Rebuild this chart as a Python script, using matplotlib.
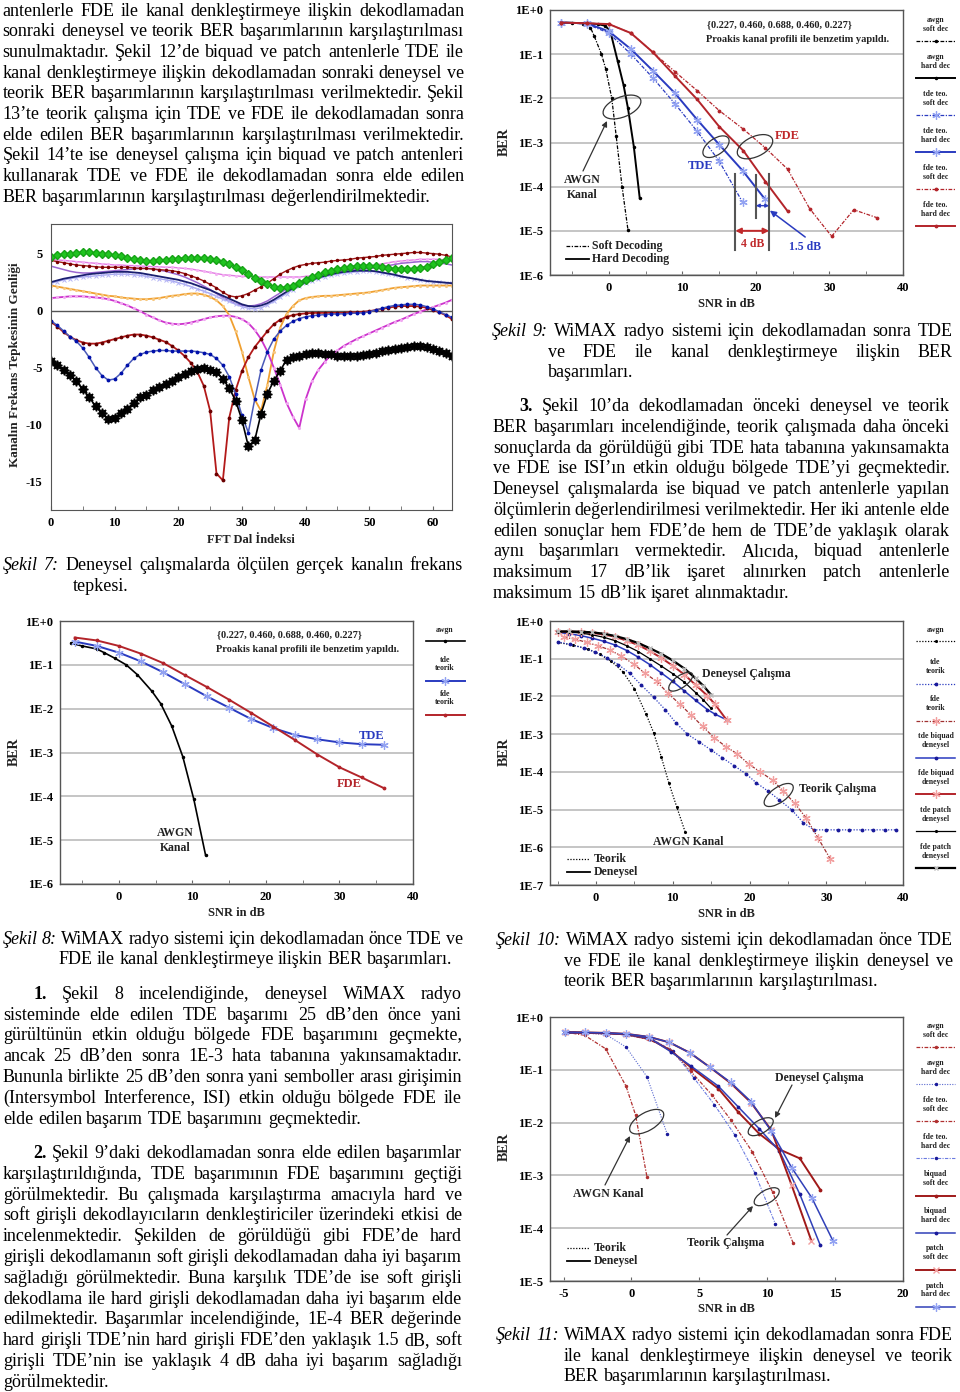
import matplotlib
matplotlib.use("Agg")
import matplotlib.pyplot as plt
from matplotlib.patches import Ellipse
from matplotlib.ticker import MultipleLocator, NullLocator
import numpy as np

plt.rcParams["font.family"] = ["Liberation Serif", "DejaVu Serif"]
plt.rcParams["font.weight"] = "bold"
plt.rcParams["axes.unicode_minus"] = False

W, H = 960, 1392

# -----------------------------
# Page text
# -----------------------------
TOP_PARA = [
    "antenlerle FDE ile kanal denkleştirmeye ilişkin dekodlamadan",
    "sonraki deneysel ve teorik BER başarımlarının karşılaştırılması",
    "sunulmaktadır. Şekil 12’de biquad ve patch antenlerle TDE ile",
    "kanal denkleştirmeye ilişkin dekodlamadan sonraki deneysel ve",
    "teorik BER başarımlarının karşılaştırılması verilmektedir. Şekil",
    "13’te teorik çalışma için TDE ve FDE ile dekodlamadan sonra",
    "elde edilen BER başarımlarının karşılaştırılması verilmektedir.",
    "Şekil 14’te ise deneysel çalışma için biquad ve patch antenleri",
    "kullanarak TDE ve FDE ile dekodlamadan sonra elde edilen",
    "BER başarımlarının karşılaştırılması değerlendirilmektedir.",
]
PARA1 = [
    "1. Şekil 8 incelendiğinde, deneysel WiMAX radyo",
    "sisteminde elde edilen TDE başarımı 25 dB’den önce yani",
    "gürültünün etkin olduğu bölgede FDE başarımını geçmekte,",
    "ancak 25 dB’den sonra 1E-3 hata tabanına yakınsamaktadır.",
    "Bununla birlikte 25 dB’den sonra yani semboller arası girişimin",
    "(Intersymbol Interference, ISI) etkin olduğu bölgede FDE ile",
    "elde edilen başarım TDE başarımını geçmektedir.",
]
PARA2 = [
    "2. Şekil 9’daki dekodlamadan sonra elde edilen başarımlar",
    "karşılaştırıldığında, TDE başarımının FDE başarımını geçtiği",
    "görülmektedir. Bu çalışmada karşılaştırma amacıyla hard ve",
    "soft girişli dekodlayıcıların denkleştiriciler üzerindeki etkisi de",
    "incelenmektedir. Şekilden de görüldüğü gibi FDE’de hard",
    "girişli dekodlamanın soft girişli dekodlamadan daha iyi başarım",
    "sağladığı görülmektedir. Buna karşılık TDE’de ise soft girişli",
    "dekodlama ile hard girişli dekodlamadan daha iyi başarım elde",
    "edilmektedir. Başarımlar incelendiğinde, 1E-4 BER değerinde",
    "hard girişli TDE’nin hard girişli FDE’den yaklaşık 1.5 dB, soft",
    "girişli TDE’nin ise yaklaşık 4 dB daha iyi başarım sağladığı",
    "görülmektedir.",
]
PARA3 = [
    "3. Şekil 10’da dekodlamadan önceki deneysel ve teorik",
    "BER başarımları incelendiğinde, teorik çalışmada daha önceki",
    "sonuçlarda da görüldüğü gibi TDE hata tabanına yakınsamakta",
    "ve FDE ise ISI’ın etkin olduğu bölgede TDE’yi geçmektedir.",
    "Deneysel çalışmalarda ise biquad ve patch antenlerle yapılan",
    "ölçümlerin değerlendirilmesi verilmektedir. Her iki antenle elde",
    "edilen sonuçlar hem FDE’de hem de TDE’de yaklaşık olarak",
    "aynı başarımları vermektedir. Alıcıda, biquad antenlerle",
    "maksimum 17 dB’lik işaret alınırken patch antenlerle",
    "maksimum 15 dB’lik işaret alınmaktadır.",
]
CAP7 = ["Şekil 7: Deneysel çalışmalarda ölçülen gerçek kanalın frekans", "tepkesi."]
CAP8 = ["Şekil 8: WiMAX radyo sistemi için dekodlamadan önce TDE ve",
        "FDE ile kanal denkleştirmeye ilişkin BER başarımları."]
CAP9 = ["Şekil 9: WiMAX radyo sistemi için dekodlamadan sonra TDE",
        "ve FDE ile kanal denkleştirmeye ilişkin BER", "başarımları."]
CAP10 = ["Şekil 10: WiMAX radyo sistemi için dekodlamadan önce TDE",
         "ve FDE ile kanal denkleştirmeye ilişkin deneysel ve",
         "teorik BER başarımlarının karşılaştırılması."]
CAP11 = ["Şekil 11: WiMAX radyo sistemi için dekodlamadan sonra FDE",
         "ile kanal denkleştirmeye ilişkin deneysel ve teorik",
         "BER başarımlarının karşılaştırılması."]

# -----------------------------
# Fig 7 data: channel frequency responses (FFT bins 0..63)
# -----------------------------
f7_green = [4.7, 4.85, 4.95, 5.0, 5.05, 5.1, 5.1, 5.05, 5.0, 4.95,
            4.85, 4.75, 4.6, 4.5, 4.4, 4.35, 4.35, 4.4, 4.45, 4.5,
            4.55, 4.6, 4.62, 4.65, 4.62, 4.55, 4.45, 4.3, 4.1, 3.85,
            3.55, 3.2, 2.9, 2.6, 2.35, 2.1, 2.0, 2.05, 2.2, 2.45,
            2.7, 2.95, 3.15, 3.35, 3.5, 3.65, 3.75, 3.85, 3.9, 3.95,
            3.95, 3.9, 3.8, 3.72, 3.68, 3.65, 3.65, 3.68, 3.72, 3.85,
            4.05, 4.25, 4.45, 4.6]
f7_red_up = [4.4, 4.3, 4.2, 4.1, 4.0, 3.95, 3.9, 3.85, 3.8, 3.8,
             3.8, 3.8, 3.8, 3.75, 3.7, 3.7, 3.65, 3.6, 3.55, 3.5,
             3.4, 3.25, 3.05, 2.85, 2.6, 2.3, 2.0, 1.6, 1.3, 1.2,
             1.3, 1.5, 1.8, 2.1, 2.4, 2.8, 3.2, 3.5, 3.75, 3.95,
             4.05, 4.15, 4.2, 4.25, 4.35, 4.4, 4.45, 4.5, 4.6, 4.65,
             4.7, 4.75, 4.85, 4.9, 4.95, 5.0, 5.05, 5.1, 5.1, 5.05,
             5.0, 4.95, 4.85, 4.7]
f7_pink_up = [4.5, 4.45, 4.4, 4.35, 4.3, 4.25, 4.2, 4.15, 4.1, 4.05,
              4.0, 4.0, 3.95, 3.95, 3.9, 3.9, 3.85, 3.85, 3.8, 3.8,
              3.75, 3.7, 3.65, 3.55, 3.45, 3.35, 3.25, 3.15, 3.1, 3.05,
              3.0, 3.0, 2.95, 2.95, 2.95, 2.95, 2.95, 2.95, 2.95, 2.95,
              3.0, 3.05, 3.1, 3.2, 3.3, 3.4, 3.5, 3.6, 3.7, 3.8,
              3.9, 4.0, 4.1, 4.2, 4.3, 4.35, 4.4, 4.45, 4.5, 4.5,
              4.5, 4.5, 4.45, 4.4]
f7_purple = [3.9, 3.75, 3.6, 3.45, 3.35, 3.3, 3.3, 3.35, 3.4, 3.45,
             3.5, 3.55, 3.6, 3.65, 3.7, 3.7, 3.65, 3.55, 3.45, 3.3,
             3.15, 2.95, 2.7, 2.45, 2.15, 1.85, 1.5, 1.15, 0.85, 0.6,
             0.45, 0.4, 0.45, 0.6, 0.85, 1.2, 1.55, 1.9, 2.2, 2.5,
             2.75, 2.95, 3.1, 3.25, 3.35, 3.45, 3.5, 3.55, 3.6, 3.65,
             3.7, 3.75, 3.85, 3.95, 4.05, 4.15, 4.2, 4.25, 4.3, 4.3,
             4.25, 4.2, 4.1, 4.0]
f7_navy = [2.5, 2.65, 2.8, 2.9, 3.0, 3.1, 3.2, 3.25, 3.3, 3.35,
           3.4, 3.4, 3.4, 3.35, 3.3, 3.2, 3.1, 3.0, 2.9, 2.8,
           2.7, 2.55, 2.4, 2.2, 2.0, 1.8, 1.55, 1.3, 1.05, 0.8,
           0.55, 0.4, 0.35, 0.45, 0.65, 0.95, 1.3, 1.65, 1.95, 2.25,
           2.5, 2.7, 2.9, 3.05, 3.2, 3.3, 3.4, 3.45, 3.5, 3.5,
           3.5, 3.45, 3.35, 3.25, 3.15, 3.0, 2.9, 2.8, 2.7, 2.6,
           2.55, 2.5, 2.45, 2.4]
f7_lavender = [2.4, 2.55, 2.7, 2.8, 2.9, 2.95, 3.0, 3.05, 3.1, 3.15,
               3.2, 3.2, 3.2, 3.15, 3.1, 3.0, 2.9, 2.8, 2.7, 2.6,
               2.45, 2.3, 2.1, 1.9, 1.7, 1.5, 1.25, 1.0, 0.8, 0.55,
               0.35, 0.2, 0.15, 0.25, 0.5, 0.8, 1.15, 1.5, 1.85, 2.15,
               2.4, 2.6, 2.8, 2.95, 3.1, 3.2, 3.3, 3.35, 3.4, 3.45,
               3.45, 3.4, 3.3, 3.2, 3.1, 3.0, 2.9, 2.8, 2.7, 2.6,
               2.55, 2.5, 2.45, 2.45]
f7_orange = [2.2, 2.1, 2.0, 1.9, 1.8, 1.7, 1.6, 1.5, 1.4, 1.3,
             1.25, 1.15, 1.1, 1.05, 1.0, 1.0, 1.05, 1.1, 1.2, 1.3,
             1.35, 1.45, 1.5, 1.5, 1.4, 1.2, 0.9, 0.4, -0.4, -1.8,
             -3.6, -5.8, -7.8, -8.8, -6.5, -3.6, -1.5, -0.3, 0.4, 0.9,
             1.1, 1.2, 1.25, 1.3, 1.3, 1.35, 1.4, 1.45, 1.5, 1.55,
             1.6, 1.7, 1.8, 1.9, 2.0, 2.05, 2.1, 2.15, 2.2, 2.2,
             2.2, 2.2, 2.2, 2.2]
f7_magenta = [1.1, 1.15, 1.2, 1.25, 1.25, 1.25, 1.2, 1.15, 1.1, 1.0,
              0.85, 0.65, 0.45, 0.2, -0.05, -0.35, -0.6, -0.85, -1.05, -1.15,
              -1.2, -1.15, -1.05, -0.9, -0.75, -0.6, -0.5, -0.45, -0.45, -0.55,
              -0.75, -1.1, -1.7, -2.5, -3.6, -5.0, -6.5, -8.1, -9.3, -10.3,
              -7.8, -6.2, -5.2, -4.5, -3.9, -3.5, -3.1, -2.8, -2.5, -2.25,
              -2.0, -1.75, -1.5, -1.25, -1.0, -0.8, -0.55, -0.3, -0.1, 0.1,
              0.3, 0.5, 0.7, 0.95]
f7_red_low = [-1.0, -1.4, -1.9, -2.3, -2.6, -2.8, -2.9, -2.9, -2.8, -2.65,
              -2.5, -2.35, -2.2, -2.1, -2.1, -2.2, -2.35, -2.55, -2.75, -3.1,
              -3.5, -4.0, -4.6, -5.4, -6.6, -8.8, -14.3, -14.9, -9.4, -7.0,
              -5.3, -4.1, -3.2, -2.5, -1.8, -1.2, -0.8, -0.55, -0.4, -0.3,
              -0.25, -0.2, -0.2, -0.2, -0.2, -0.2, -0.2, -0.15, -0.15, -0.1,
              -0.05, 0.05, 0.15, 0.25, 0.35, 0.4, 0.4, 0.4, 0.35, 0.25,
              0.05, -0.15, -0.4, -0.75]
f7_blue_low = [-0.9, -1.3, -1.8, -2.3, -2.7, -3.3, -4.1, -5.0, -5.7, -6.1,
               -6.0, -5.5, -4.8, -4.2, -3.85, -3.65, -3.55, -3.5, -3.5, -3.55,
               -3.55, -3.55, -3.55, -3.6, -3.7, -3.85, -4.2, -4.8, -5.8, -7.3,
               -9.2, -10.7, -7.8, -5.2, -3.6, -2.5, -1.8, -1.3, -0.95, -0.7,
               -0.55, -0.45, -0.4, -0.35, -0.3, -0.3, -0.28, -0.25, -0.22, -0.2,
               -0.1, 0.05, 0.2, 0.35, 0.45, 0.5, 0.55, 0.55, 0.5, 0.35,
               0.15, -0.1, -0.35, -0.6]
f7_black = [-4.4, -4.8, -5.2, -5.65, -6.2, -6.9, -7.6, -8.4, -9.0, -9.5,
            -9.4, -9.0, -8.6, -8.1, -7.6, -7.4, -7.0, -6.7, -6.45, -6.15,
            -5.8, -5.55, -5.3, -5.1, -5.05, -5.2, -5.4, -6.0, -6.8, -7.9,
            -9.6, -11.9, -11.4, -9.05, -7.3, -6.15, -5.3, -4.3, -4.1, -3.95,
            -3.8, -3.75, -3.75, -3.8, -3.85, -3.95, -4.0, -4.0, -4.0, -3.9,
            -3.8, -3.7, -3.55, -3.45, -3.35, -3.3, -3.2, -3.15, -3.15, -3.2,
            -3.4, -3.55, -3.75, -4.0]

# -----------------------------
# Fig 8 data: before decoding
# -----------------------------
f8_awgn_x = [-6.5, -5, -3, -2, -0.5, 1, 2.5, 4.5, 5.7, 7.2, 8.7, 10.2, 11.8]
f8_awgn_y = [0.31, 0.27, 0.23, 0.19, 0.14, 0.1, 0.06, 0.025, 0.013, 4e-3, 8e-4, 8.5e-5, 4.5e-6]
f8_snr = [-6, -3, 0, 3, 6, 9, 12, 15, 18, 21, 24, 27, 30, 33, 36]
f8_tde = [0.34, 0.27, 0.19, 0.12, 0.068, 0.036, 0.019, 0.0105, 5.8e-3, 3.6e-3,
          2.5e-3, 2.0e-3, 1.7e-3, 1.55e-3, 1.5e-3]
f8_fde = [0.42, 0.36, 0.27, 0.18, 0.11, 0.058, 0.031, 0.016, 8e-3, 3.9e-3,
          1.9e-3, 9e-4, 4.6e-4, 2.7e-4, 1.55e-4]

# -----------------------------
# Fig 9 data: after decoding
# -----------------------------
f9_awgn_soft_x = [-6.5, -5, -3.5, -2.5, -2, -1, -0.4, 0.4, 1.0, 1.8, 2.6]
f9_awgn_soft_y = [0.52, 0.51, 0.49, 0.4, 0.26, 0.1, 0.045, 0.01, 1.4e-3, 1e-4, 1.05e-5]
f9_awgn_hard_x = [-6.5, -3, -1.5, -0.5, 0.2, 1.2, 2.0, 2.6, 3.4, 4.2]
f9_awgn_hard_y = [0.52, 0.5, 0.48, 0.44, 0.33, 0.07, 0.02, 6e-3, 8e-4, 5.5e-5]
f9_tde_soft_x = [-6.5, -3, 0, 3, 6, 9, 12, 15, 18.2]
f9_tde_soft_y = [0.52, 0.48, 0.3, 0.1, 0.029, 7.5e-3, 1.8e-3, 3.8e-4, 4.4e-5]
f9_tde_hard_x = [-6.5, -3, 0, 3, 6, 9, 12, 15, 18.2, 21.2]
f9_tde_hard_y = [0.52, 0.5, 0.33, 0.13, 0.042, 0.013, 3.3e-3, 9e-4, 2.3e-4, 5.3e-5]
f9_fde_soft_x = [-6.5, -3, 0, 3, 6, 9, 12, 15, 18.3, 21.3, 24.3, 27.3, 30.3, 33.3, 36.4]
f9_fde_soft_y = [0.52, 0.5, 0.48, 0.3, 0.11, 0.04, 0.015, 5.3e-3, 2e-3, 7.5e-4,
                 2.5e-4, 3.2e-5, 7.5e-6, 3e-5, 2e-5]
f9_fde_hard_x = [-6.5, -3, 0, 3, 6, 9, 12, 15, 18.3, 21.3, 24.3]
f9_fde_hard_y = [0.52, 0.5, 0.48, 0.3, 0.11, 0.032, 9.5e-3, 2.3e-3, 6.5e-4, 1.3e-4, 2.8e-5]

# -----------------------------
# Fig 10 data: before decoding, experimental vs theory
# -----------------------------
f10_awgn_x = [-5, -3, -1, 0.5, 2, 3.5, 5, 6.5, 7.5, 8.5, 9.5, 10.5, 11.6]
f10_awgn_y = [0.27, 0.23, 0.18, 0.13, 0.085, 0.045, 0.016, 3.5e-3, 1.1e-3, 2.5e-4, 5e-5, 1.2e-5, 2.6e-6]
f10_tde_teo_x = [-5, -3.4, -1.6, -0.1, 1.4, 2.9, 4.4, 5.9, 7.5, 9, 10.4, 11.9, 13.4, 15, 16.4,
                 18, 19.5, 20.9, 22.4, 23.9, 25.5, 27, 28.4, 30, 31.5, 33, 34.6, 36.1, 37.6, 39.1]
f10_tde_teo_y = [0.28, 0.24, 0.19, 0.15, 0.107, 0.07, 0.041, 0.02, 9.5e-3, 4.5e-3, 2e-3, 1e-3,
                 6.3e-4, 3.8e-4, 2.4e-4, 1.45e-4, 9e-5, 5.1e-5, 3.1e-5, 1.8e-5, 9.8e-6, 4.5e-6,
                 2.9e-6, 2.9e-6, 2.9e-6, 2.9e-6, 2.9e-6, 2.9e-6, 2.9e-6, 2.9e-6]
f10_fde_teo_x = [-4.2, -2.7, -1.2, 0.3, 1.8, 3.3, 4.9, 6.4, 7.9, 9.4, 10.9, 12.4, 13.9, 15.4,
                 16.9, 18.4, 19.9, 21.4, 23, 24.4, 25.9, 27.4, 28.9, 30.5]
f10_fde_teo_y = [0.37, 0.33, 0.27, 0.22, 0.17, 0.118, 0.072, 0.041, 0.025, 0.012, 6.3e-3, 3.2e-3,
                 1.6e-3, 8e-4, 4.7e-4, 3.0e-4, 1.6e-4, 1e-4, 6e-5, 3.1e-5, 1.45e-5, 5.9e-6,
                 1.8e-6, 5e-7]
f10_biq_x = [-5, -3.5, -2, -0.5, 1, 2.5, 4, 5.5, 7, 8.5, 10, 11.5, 13, 14.5, 15.5, 17]
f10_tde_biq = [0.5, 0.46, 0.41, 0.35, 0.29, 0.23, 0.165, 0.11, 0.07, 0.042, 0.025, 0.014,
               7.8e-3, 4.5e-3, 3.4e-3, 2.4e-3]
f10_fde_biq = [0.52, 0.52, 0.51, 0.48, 0.44, 0.38, 0.3, 0.23, 0.16, 0.105, 0.065, 0.038,
               0.02, 0.0105, 6.2e-3, 2.4e-3]
f10_pat_x = [-5, -3.5, -2, -0.5, 1, 2.5, 4, 5.5, 7, 8.5, 10, 11.5, 13, 14, 15]
f10_tde_pat = [0.52, 0.51, 0.48, 0.43, 0.37, 0.3, 0.22, 0.155, 0.1, 0.064, 0.04, 0.024,
               0.0125, 8e-3, 4.8e-3]
f10_fde_pat = [0.53, 0.53, 0.52, 0.5, 0.46, 0.4, 0.33, 0.26, 0.19, 0.135, 0.09, 0.055,
               0.03, 0.019, 0.011]

# -----------------------------
# Fig 11 data: after decoding (FDE), experimental vs theory
# -----------------------------
f11_awgn_soft_x = [-4.9, -3.45, -1.9, -0.4, 0.3, 1.14]
f11_awgn_soft_y = [0.52, 0.45, 0.25, 0.049, 0.014, 9.4e-4]
f11_awgn_hard_x = [-4.9, -3.4, -1.85, -0.4, 1.14, 2.64]
f11_awgn_hard_y = [0.52, 0.5, 0.46, 0.27, 0.074, 6e-3]
f11_fde_soft_x = [-4.9, -3.4, -1.9, -0.4, 1.2, 2.8, 4.36, 5.9, 7.35, 8.9, 10.4, 11.9]
f11_fde_soft_y = [0.52, 0.51, 0.49, 0.46, 0.38, 0.25, 0.094, 0.034, 0.011, 2.8e-3, 4.8e-4, 5.3e-5]
f11_fde_hard_x = [-4.9, -3.4, -1.9, -0.4, 1.5, 3.05, 4.6, 6.1, 7.6, 9.1, 10.6]
f11_fde_hard_y = [0.52, 0.51, 0.49, 0.46, 0.38, 0.23, 0.07, 0.022, 5.9e-3, 1.1e-3, 1.2e-4]
f11_biq_x = [-4.9, -3.4, -1.9, -0.4, 1.4, 2.9, 4.4, 6.4, 7.85, 9.4, 10.9, 12.4, 13.9]
f11_biq_soft = [0.5, 0.5, 0.49, 0.47, 0.38, 0.23, 0.11, 0.044, 0.016, 6.2e-3, 3.1e-3, 2.1e-3, 5.4e-4]
f11_biq_hard = [0.5, 0.5, 0.49, 0.47, 0.39, 0.22, 0.117, 0.049, 0.02, 7.7e-3, 2.9e-3, 4.4e-4, 4.8e-5]
f11_pat_soft_x = [-4.9, -3.4, -1.9, -0.4, 1.3, 2.8, 4.3, 5.75, 7.3, 8.8, 10.3, 11.8, 13.25]
f11_pat_soft_y = [0.52, 0.51, 0.5, 0.48, 0.42, 0.33, 0.21, 0.113, 0.056, 0.024, 7.2e-3, 6.5e-4, 5.8e-5]
f11_pat_hard_x = [-4.9, -3.4, -1.9, -0.4, 1.3, 2.8, 4.3, 5.75, 7.3, 8.8, 10.3, 11.8, 13.3, 14.85]
f11_pat_hard_y = [0.52, 0.51, 0.5, 0.48, 0.42, 0.33, 0.21, 0.113, 0.058, 0.025, 6.9e-3, 1.4e-3,
                  3.7e-4, 5.7e-5]

# -----------------------------
# Styles
# -----------------------------
DASHDOT = (0, (3, 1.2, 1, 1.2))
DOT = (0, (1, 1.3))
BLUE = "#2a3bc0"
RED = "#b3242a"
LBLUE = "#93a3f2"
PINK = "#f2a0a0"
DKBLUE = "#1a1a9a"
AST = (6, 2, 0)
TXT = "#222222"
BODY = 13.0

fig = plt.figure(figsize=(W / 100, H / 100), dpi=100)
fig.patch.set_facecolor("white")


def add_ax(x, y, w, h):
    return fig.add_axes([x / W, 1 - (y + h) / H, w / W, h / H])


top = fig.add_axes([0, 0, 1, 1], zorder=10)
top.set_xlim(0, W)
top.set_ylim(H, 0)
top.axis("off")
renderer = fig.canvas.get_renderer()


def width_of(t):
    return t.get_window_extent(renderer).width


def make_words(words, x0, yb, size, italic, bold):
    arts = []
    for i, w in enumerate(words):
        arts.append(top.text(x0, yb, w, fontsize=size, va="baseline", ha="left", color="black",
                             style="italic" if i < italic else "normal",
                             weight="bold" if i < bold else "normal"))
    return arts


def put_line(line, x0, x1, yb, justify=True, italic=0, bold=0):
    words = line.split()
    size = BODY
    arts = make_words(words, x0, yb, size, italic, bold)
    widths = [width_of(t) for t in arts]
    sp = 0.25 * size * 100 / 72
    need = sum(widths) + (len(words) - 1) * sp * 0.8
    if need > x1 - x0:
        # shrink this line a little so it fits the column
        for t in arts:
            t.remove()
        size = BODY * (x1 - x0 - (len(words) - 1) * sp * 0.8) / sum(widths)
        arts = make_words(words, x0, yb, size, italic, bold)
        widths = [width_of(t) for t in arts]
    gap = sp
    if justify and len(words) > 1:
        gap = max((x1 - x0 - sum(widths)) / (len(words) - 1), 1.5)
    x = x0
    for t, w in zip(arts, widths):
        t.set_x(x)
        x += w + gap


def paragraph(lines, x_first, x_rest, x_right, y_first, dy, bold=0, italic=0):
    for i, line in enumerate(lines):
        put_line(line, x_first if i == 0 else x_rest, x_right, y_first + i * dy,
                 justify=i < len(lines) - 1,
                 bold=bold if i == 0 else 0, italic=italic if i == 0 else 0)


paragraph(TOP_PARA, 2.7, 2.7, 464, 15.5, 20.67)
paragraph(CAP7, 3, 72.7, 463, 570.5, 20.8, italic=2)
paragraph(CAP8, 3, 58.3, 463, 943.8, 20.6, italic=2)
paragraph(PARA1, 33.3, 3, 462, 998.8, 20.8, bold=1)
paragraph(PARA2, 33.3, 3, 462, 1158, 20.8, bold=1)
paragraph(CAP9, 491.3, 548, 953, 336.2, 20.5, italic=2)
paragraph(PARA3, 519.7, 493, 949.7, 411.2, 20.73, bold=1)
paragraph(CAP10, 496, 564, 953, 945, 20.7, italic=2)
paragraph(CAP11, 496, 564, 953, 1340.5, 20.4, italic=2)


def ptext(x, y, s, size=8.5, color=TXT, ha="left", rot=0, **kw):
    top.text(x, y, s, fontsize=size, color=color, ha=ha, va="center", rotation=rot,
             weight="bold", **kw)


def ellipse(cx, cy, w, h, ang):
    top.add_patch(Ellipse((cx, cy), w, h, angle=ang, fill=False, ec="#333333", lw=0.9))


def arrow(x0, y0, x1, y1, color="#333333"):
    top.annotate("", xy=(x1, y1), xytext=(x0, y0),
                 arrowprops=dict(arrowstyle="-|>", color=color, lw=0.9,
                                 mutation_scale=8, shrinkA=0, shrinkB=0))


def legend_column(items, xc, y0, step):
    for i, (label, style) in enumerate(items):
        yt = y0 + i * step
        top.text(xc, yt, label, fontsize=5.6, ha="center", va="center",
                 color=TXT, weight="bold", linespacing=1.15)
        yl = yt + (11 if "\n" not in label else 16.8)
        top.plot([xc - 19.5, xc, xc + 19.5], [yl] * 3, markevery=[1], **style)


def ber_axes(ax, xlim, step, ymin_exp, minor=True):
    ax.set_yscale("log")
    ax.set_ylim(10.0 ** ymin_exp, 1)
    ax.set_xlim(*xlim)
    ks = list(range(ymin_exp, 1))
    ax.set_yticks([10.0 ** k for k in ks])
    ax.set_yticklabels([f"1E{k:+d}" for k in ks])
    ax.yaxis.set_minor_locator(NullLocator())
    ax.xaxis.set_major_locator(MultipleLocator(step))
    if minor:
        ax.xaxis.set_minor_locator(MultipleLocator(step / 2))
    ax.grid(axis="y", which="major", color="#b5b5b5", lw=1.1)
    ax.set_axisbelow(True)
    ax.tick_params(axis="y", length=0, pad=5, labelsize=9)
    ax.tick_params(axis="x", which="both", direction="in", length=3, pad=5,
                   labelsize=9, color="#666666")
    for s in ax.spines.values():
        s.set_color("#555555")
        s.set_linewidth(1)


# -----------------------------
# Fig 7
# -----------------------------
ax7 = add_ax(51, 224, 401, 286)
ax7.set_xlim(0, 63)
ax7.set_ylim(-17.5, 7.6)
ax7.set_yticks([5, 0, -5, -10, -15])
ax7.xaxis.set_major_locator(MultipleLocator(10))
ax7.xaxis.set_minor_locator(MultipleLocator(5))
ax7.tick_params(axis="y", length=0, pad=6, labelsize=9)
ax7.tick_params(axis="x", which="both", direction="in", length=3, pad=5, labelsize=9,
                color="#666666")
for s in ax7.spines.values():
    s.set_color("#555555")
ax7.axhline(0, color="#555555", lw=1)

f7_series = [
    (f7_pink_up, dict(color="#e27ae2", lw=1.0, marker=".", ms=2.5, mfc="#f4b0f4", mec="#f4b0f4")),
    (f7_purple, dict(color="#9a66d0", lw=1.1)),
    (f7_lavender, dict(color="#a8a8f0", lw=1.0, marker="x", ms=3.2, mec="#b4b4f6", mew=0.7)),
    (f7_navy, dict(color="#1a1f70", lw=1.3)),
    (f7_red_up, dict(color="#a01818", lw=1.0, marker=".", ms=3, mfc="#7a0000", mec="#7a0000")),
    (f7_orange, dict(color="#f0a030", lw=1.3, marker=".", ms=2.5, mfc="#f7c880", mec="#f7c880")),
    (f7_magenta, dict(color="#cc33cc", lw=1.3, marker=".", ms=2.5, mfc="#f2a8f2", mec="#f2a8f2")),
    (f7_red_low, dict(color="#b31a1a", lw=1.3, marker=".", ms=3.5, mfc="#6a0000", mec="#6a0000")),
    (f7_blue_low, dict(color="#4a5ab8", lw=1.1, marker=".", ms=3.5, mfc="#0010aa", mec="#0010aa")),
    (f7_green, dict(color="#1fc41f", lw=1.6, marker="D", ms=4.5, mec="#16a316")),
    (f7_black, dict(color="black", lw=1.2, marker=(8, 1, 0), ms=7)),
]
for ys, st in f7_series:
    ax7.plot(np.arange(len(ys)), ys, **st)

ptext(15, 365, "Kanalın Frekans Tepkesinin Genliği", size=9.5, ha="center", rot=90)
ptext(251, 540, "FFT Dal İndeksi", size=9, ha="center")

# -----------------------------
# Fig 8
# -----------------------------
ax8 = add_ax(60, 621, 353, 263)
ber_axes(ax8, (-8, 40), 10, -6)
S8 = [
    ("awgn", dict(color="black", ls="-", lw=1.2, marker=".", ms=3)),
    ("tde\nteorik", dict(color=BLUE, ls="-", lw=1.4, marker=AST, ms=6, mec=LBLUE, mew=0.9)),
    ("fde\nteorik", dict(color=RED, ls="-", lw=1.4, marker=".", ms=3.5)),
]
ax8.plot(f8_awgn_x, f8_awgn_y, **S8[0][1])
ax8.plot(f8_snr, f8_tde, **S8[1][1])
ax8.plot(f8_snr, f8_fde, **S8[2][1])
legend_column(S8, 445, 630, 34)
ptext(216.7, 635, "{0.227, 0.460, 0.688, 0.460, 0.227}", size=7.5)
ptext(216, 649.5, "Proakis kanal profili ile benzetim yapıldı.", size=7.5)
ptext(372, 735.7, "TDE", size=9, color=BLUE, ha="center")
ptext(349.3, 784.3, "FDE", size=9, color=RED, ha="center")
ptext(175, 833, "AWGN", size=8.5, ha="center")
ptext(175, 848, "Kanal", size=8.5, ha="center")
ptext(14, 752, "BER", size=10, ha="center", rot=90)
ptext(236.5, 913, "SNR in dB", size=9, ha="center")

# -----------------------------
# Fig 9
# -----------------------------
ax9 = add_ax(550, 10, 353, 265)
ber_axes(ax9, (-8, 40), 10, -6)
S9 = [
    ("awgn\nsoft dec", dict(color="black", ls=DASHDOT, lw=0.9, marker=".", ms=3)),
    ("awgn\nhard dec", dict(color="black", ls="-", lw=1.4, marker=".", ms=3)),
    ("tde teo.\nsoft dec", dict(color=BLUE, ls=DASHDOT, lw=0.9, marker=AST, ms=6, mec=LBLUE, mew=0.9)),
    ("tde teo.\nhard dec", dict(color=BLUE, ls="-", lw=1.4, marker=AST, ms=6, mec=LBLUE, mew=0.9)),
    ("fde teo.\nsoft dec", dict(color=RED, ls=DASHDOT, lw=0.9, marker=".", ms=3.5)),
    ("fde teo.\nhard dec", dict(color=RED, ls="-", lw=1.4, marker=".", ms=3.5)),
]
f9_data = [(f9_awgn_soft_x, f9_awgn_soft_y), (f9_awgn_hard_x, f9_awgn_hard_y),
           (f9_tde_soft_x, f9_tde_soft_y), (f9_tde_hard_x, f9_tde_hard_y),
           (f9_fde_soft_x, f9_fde_soft_y), (f9_fde_hard_x, f9_fde_hard_y)]
for (xs, ys), (_, st) in zip(f9_data, S9):
    ax9.plot(xs, ys, **st)
legend_column(S9, 935.5, 24.5, 37)

# dB gap markers
for xv, lo, hi in [(17.2, 3.7e-6, 1.95e-4), (21.8, 3.7e-6, 1.95e-4), (20.0, 1.95e-5, 1.85e-4)]:
    ax9.plot([xv, xv], [lo, hi], color="#555555", lw=1.5)
ax9.annotate("", xy=(21.8, 1e-5), xytext=(17.2, 1e-5),
             arrowprops=dict(arrowstyle="<|-|>", color="#c0282a", lw=1.4,
                             mutation_scale=8, shrinkA=0, shrinkB=0))
ax9.annotate("", xy=(21.8, 10 ** -4.43), xytext=(20.0, 10 ** -4.43),
             arrowprops=dict(arrowstyle="<|-|>", color=BLUE, lw=1.0,
                             mutation_scale=5, shrinkA=0, shrinkB=0))
ax9.annotate("", xy=(21.9, 10 ** -4.54), xytext=(26.7, 10 ** -5.14),
             arrowprops=dict(arrowstyle="-|>", color=BLUE, lw=1.1,
                             mutation_scale=9, shrinkA=0, shrinkB=0))

ptext(707, 25, "{0.227, 0.460, 0.688, 0.460, 0.227}", size=7.5)
ptext(706, 39.5, "Proakis kanal profili ile benzetim yapıldı.", size=7.5)
ellipse(622, 107, 40, 20, -22)
arrow(583, 171, 607, 121)
ptext(582.3, 180, "AWGN", size=8.5, ha="center")
ptext(582.3, 194.5, "Kanal", size=8.5, ha="center")
ellipse(716, 146.7, 30, 16, -35)
ellipse(755, 146.7, 38, 20, -25)
ptext(701, 166, "TDE", size=9, color=BLUE, ha="center")
ptext(787, 136, "FDE", size=9, color="#c0282a", ha="center")
ptext(752.7, 244, "4 dB", size=8.5, color="#c0282a", ha="center")
ptext(805, 246.7, "1.5 dB", size=8.5, color=BLUE, ha="center")
top.plot([566, 589], [246, 246], color="black", ls=DASHDOT, lw=0.9)
top.plot([566, 589], [259, 259], color="black", lw=1.3)
ptext(592, 246, "Soft Decoding", size=8.5)
ptext(592, 259, "Hard Decoding", size=8.5)
ptext(504, 142, "BER", size=10, ha="center", rot=90)
ptext(726.5, 304, "SNR in dB", size=9, ha="center")

# -----------------------------
# Fig 10
# -----------------------------
ax10 = add_ax(550, 621, 353, 264)
ber_axes(ax10, (-6, 40), 10, -7)
S10 = [
    ("awgn", dict(color="black", ls=DOT, lw=0.9, marker=".", ms=2.5)),
    ("tde\nteorik", dict(color=BLUE, ls=DOT, lw=0.9, marker=".", ms=3.5, mfc=DKBLUE, mec=DKBLUE)),
    ("fde\nteorik", dict(color="#a03030", ls=DASHDOT, lw=0.9, marker=AST, ms=6, mec=PINK, mew=0.9)),
    ("tde biquad\ndeneysel", dict(color=BLUE, ls="-", lw=1.1, marker=".", ms=3.5, mfc=DKBLUE, mec=DKBLUE)),
    ("fde biquad\ndeneysel", dict(color=RED, ls="-", lw=1.4, marker=AST, ms=6, mec=PINK, mew=0.9)),
    ("tde patch\ndeneysel", dict(color="black", ls="-", lw=0.9, marker=".", ms=2.5)),
    ("fde patch\ndeneysel", dict(color="black", ls="-", lw=1.6, marker="x", ms=3, mec="#bbbbbb")),
]
f10_data = [(f10_awgn_x, f10_awgn_y), (f10_tde_teo_x, f10_tde_teo_y),
            (f10_fde_teo_x, f10_fde_teo_y), (f10_biq_x, f10_tde_biq),
            (f10_biq_x, f10_fde_biq), (f10_pat_x, f10_tde_pat), (f10_pat_x, f10_fde_pat)]
for (xs, ys), (_, st) in zip(f10_data, S10):
    ax10.plot(xs, ys, **st)
legend_column(S10, 935.5, 630, 36.9)
ptext(702, 674.3, "Deneysel Çalışma", size=8.5)
ellipse(680.7, 681.7, 28, 12, -35)
ptext(799.3, 788.7, "Teorik Çalışma", size=8.5)
ellipse(778.7, 795, 34, 15, -35)
ptext(653.3, 842.3, "AWGN Kanal", size=8.5)
top.plot([567, 590], [859.3, 859.3], color="black", ls=DOT, lw=0.9)
top.plot([567, 590], [872.3, 872.3], color="black", lw=1.3)
ptext(594, 859.3, "Teorik", size=8.5)
ptext(594, 872.3, "Deneysel", size=8.5)
ptext(504, 752, "BER", size=10, ha="center", rot=90)
ptext(726.5, 914, "SNR in dB", size=9, ha="center")

# -----------------------------
# Fig 11
# -----------------------------
ax11 = add_ax(550, 1017, 353, 264)
ber_axes(ax11, (-6, 20), 5, -5, minor=False)
S11 = [
    ("awgn\nsoft dec", dict(color="#b03030", ls=DASHDOT, lw=0.9, marker=".", ms=3)),
    ("awgn\nhard dec", dict(color="#5a6ad0", ls=DOT, lw=0.8, marker=".", ms=3, mfc=DKBLUE, mec=DKBLUE)),
    ("fde teo.\nsoft dec", dict(color="#b03030", ls=DASHDOT, lw=0.9, marker=".", ms=3)),
    ("fde teo.\nhard dec", dict(color="#6a7ae0", ls=DASHDOT, lw=0.8, marker=".", ms=3, mfc=DKBLUE, mec=DKBLUE)),
    ("biquad\nsoft dec", dict(color="#a01a1a", ls="-", lw=1.4, marker=".", ms=3.5)),
    ("biquad\nhard dec", dict(color="#3040b8", ls="-", lw=1.1, marker=".", ms=3.5, mfc=DKBLUE, mec=DKBLUE)),
    ("patch\nsoft dec", dict(color="#a01a1a", ls="-", lw=1.4, marker="x", ms=4, mec=PINK)),
    ("patch\nhard dec", dict(color="#3040b8", ls="-", lw=1.1, marker=AST, ms=6, mec=LBLUE, mew=0.9)),
]
f11_data = [(f11_awgn_soft_x, f11_awgn_soft_y), (f11_awgn_hard_x, f11_awgn_hard_y),
            (f11_fde_soft_x, f11_fde_soft_y), (f11_fde_hard_x, f11_fde_hard_y),
            (f11_biq_x, f11_biq_soft), (f11_biq_x, f11_biq_hard),
            (f11_pat_soft_x, f11_pat_soft_y), (f11_pat_hard_x, f11_pat_hard_y)]
for (xs, ys), (_, st) in zip(f11_data, S11):
    ax11.plot(xs, ys, **st)
legend_column(S11, 935.5, 1030.3, 37.1)
ptext(775, 1078.3, "Deneysel Çalışma", size=8.5)
arrow(792, 1085, 775, 1118)
ellipse(760.7, 1126.7, 28, 13, -30)
ptext(573.3, 1194.3, "AWGN Kanal", size=8.5)
arrow(605, 1185, 630, 1136)
ellipse(646.7, 1121.7, 38, 18, -30)
ptext(686.7, 1242.7, "Teorik Çalışma", size=8.5)
arrow(727, 1235, 753, 1206)
ellipse(766.7, 1196.7, 28, 13, -30)
top.plot([567, 590], [1247.7, 1247.7], color="black", ls=DOT, lw=0.9)
top.plot([567, 590], [1261, 1261], color="black", lw=1.3)
ptext(594, 1247.7, "Teorik", size=8.5)
ptext(594, 1261, "Deneysel", size=8.5)
ptext(504, 1147, "BER", size=10, ha="center", rot=90)
ptext(726.5, 1309, "SNR in dB", size=9, ha="center")

fig.savefig("out.png", dpi=100, facecolor="white")
plt.close(fig)
